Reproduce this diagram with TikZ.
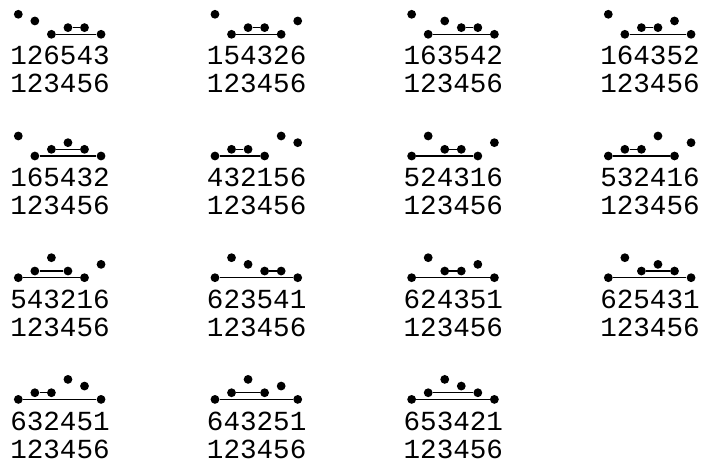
\documentclass[tikz,border=0pt]{standalone}
\usepackage{fontspec}
\setmonofont{Liberation Mono}

\begin{document}
\begin{tikzpicture}[x=0.75pt, y=-0.75pt,
    dot/.style={circle, fill=black, inner sep=0pt, minimum size=6.6pt},
    link/.style={line width=1pt},
    digits/.style={anchor=base west, inner sep=0pt, font=\fontsize{20.7pt}{21pt}\ttfamily}
]
    \useasboundingbox (0,0) rectangle (702,466);
    \foreach \perm/\hts/\a/\b/\c/\d [count=\k from 0] in {
        126543/{3,2,0,1,1,0}/3/6/4/5, 154326/{3,0,1,1,0,2}/2/5/3/4,
        163542/{3,0,2,1,1,0}/2/6/4/5, 164352/{3,0,1,1,2,0}/2/6/3/4,
        165432/{3,0,1,2,1,0}/2/6/3/5, 432156/{0,1,1,0,3,2}/1/4/2/3,
        524316/{0,3,1,1,0,2}/1/5/3/4, 532416/{0,1,1,3,0,2}/1/5/2/3,
        543216/{0,1,3,1,0,2}/1/5/2/4, 623541/{0,3,2,1,1,0}/1/6/4/5,
        624351/{0,3,1,1,2,0}/1/6/3/4, 625431/{0,3,1,2,1,0}/1/6/3/5,
        632451/{0,1,1,3,2,0}/1/6/2/3, 643251/{0,1,3,1,2,0}/1/6/2/4,
        653421/{0,1,3,2,1,0}/1/6/2/5}
    {
        \pgfmathsetmacro{\xo}{18.3+196.67*mod(\k,4)}
        \pgfmathsetmacro{\yo}{34.3+121.7*int(\k/4)}
        \foreach \h [count=\i] in \hts
            \node[dot] (d\k-\i) at ({\xo+16.55*(\i-1)}, {\yo-6.67*\h}) {};
        \draw[link] (d\k-\a) -- (d\k-\b);
        \draw[link] (d\k-\c) -- (d\k-\d);
        \node[digits] (p\k) at (\xo-8.28, \yo+30.7) {\perm};
        \node[digits] (q\k) at (\xo-8.28, \yo+58.7) {123456};
    }
\end{tikzpicture}
\end{document}
